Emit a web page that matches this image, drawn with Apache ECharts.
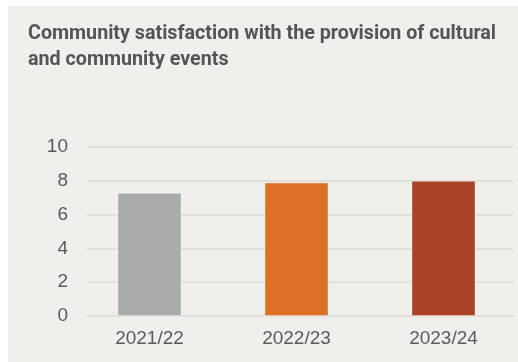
<!DOCTYPE html>
<html>
<head>
<meta charset="utf-8">
<script src="https://cdn.jsdelivr.net/npm/echarts@6/dist/echarts.min.js"></script>
<style>
  html, body { margin: 0; padding: 0; background: #ffffff; }
  #chart { width: 518px; height: 362px; }
</style>
</head>
<body>
<div id="chart"></div>
<script>
// Survey years and satisfaction scores (out of 10)
const years = ['2021/22', '2022/23', '2023/24'];
const scores = [7.3, 7.9, 8.0];
const barColors = ['#a9aba9', '#dc7127', '#ab4125'];
const yTicks = [0, 2, 4, 6, 8, 10];

const chart = echarts.init(document.getElementById('chart'), null, { renderer: 'canvas' });

const labelFont = '"Liberation Sans Narrow", "Liberation Sans", sans-serif';

chart.setOption({
  animation: false,
  backgroundColor: '#ffffff',
  graphic: [{
    type: 'rect',
    z: -10,
    shape: { x: 8, y: 6, width: 510, height: 356 },
    style: { fill: '#f0efeb' }
  }],
  title: {
    text: 'Community satisfaction with the provision of cultural\nand community events',
    left: 23,
    top: 16,
    textStyle: {
      fontFamily: 'Roboto, sans-serif',
      fontWeight: 'bold',
      fontSize: 19.7,
      lineHeight: 26,
      color: '#555555'
    }
  },
  grid: [
    // grid holding the value gridlines and tick labels
    { left: 86, right: 5, top: 147, bottom: 46 },
    // grid holding the bars and year labels
    { left: 76, right: 1, top: 147, bottom: 46 }
  ],
  xAxis: [
    { gridIndex: 0, type: 'category', data: years, show: false },
    {
      gridIndex: 1, type: 'category', data: years,
      axisLine: { show: false }, axisTick: { show: false },
      axisLabel: { color: '#5a5a5a', fontSize: 19, fontFamily: labelFont, margin: 13 }
    }
  ],
  yAxis: [
    {
      gridIndex: 0, type: 'value', min: 0, max: 10, interval: 2,
      axisLine: { show: false }, axisTick: { show: false },
      axisLabel: {
        color: '#5a5a5a', fontSize: 19, fontFamily: labelFont, margin: 18,
        formatter: v => (yTicks.includes(v) ? String(v) : '')
      },
      splitLine: { lineStyle: { color: '#dcdbd7', width: 1.5 } }
    },
    {
      gridIndex: 1, type: 'value', min: 0, max: 10, interval: 2,
      show: false, splitLine: { show: false }
    }
  ],
  series: [{
    type: 'bar',
    xAxisIndex: 1,
    yAxisIndex: 1,
    barWidth: 64,
    data: scores.map((v, i) => ({
      value: v,
      itemStyle: { color: barColors[i], borderColor: 'rgba(255,255,255,0.35)', borderWidth: 1 }
    }))
  }]
});
</script>
</body>
</html>
